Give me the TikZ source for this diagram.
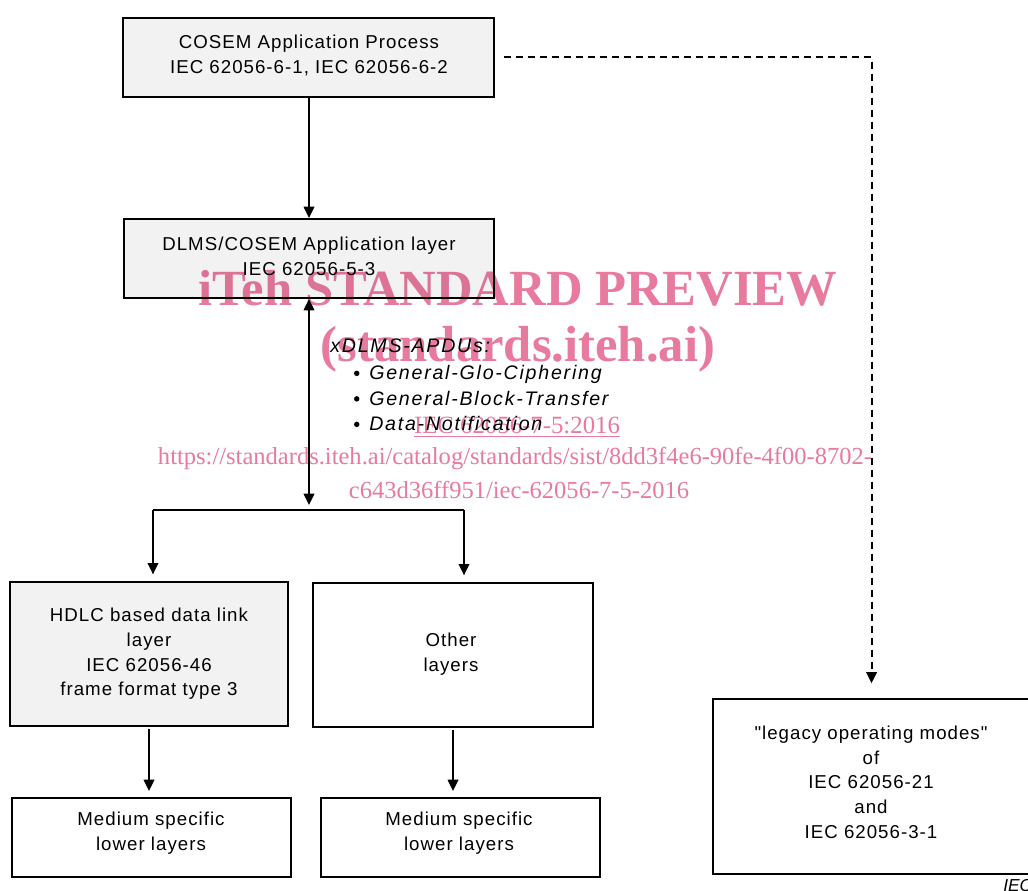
\documentclass[tikz,border=0pt]{standalone}
\usepackage{fontspec}
\usetikzlibrary{arrows.meta,fit}
\setmainfont{Liberation Sans}
\newfontfamily\labfont{Liberation Sans}[LetterSpace=5.5]
\newfontfamily\itlabfont{Liberation Sans Italic}[LetterSpace=9]
\newfontfamily\wmfont{Liberation Serif}
\newcommand\myLabSize{\labfont\fontsize{14}{18.5}\selectfont}
\newcommand\myItSize{\itlabfont\fontsize{14.7}{19}\selectfont}
\definecolor{boxgray}{RGB}{242,242,242}
\definecolor{wmpink}{RGB}{232,122,158}
\tikzset{
  boxframe/.style={draw, line width=1.5pt, inner sep=0pt},
  grayframe/.style={boxframe, fill=boxgray},
  txt/.style={align=center, font=\myLabSize, inner sep=0pt},
  ittxt/.style={anchor=base west, inner sep=0pt, font=\myItSize},
  tip/.tip={Triangle[length=8.5pt,width=8pt]},
  arr/.style={line width=1.1pt, -tip},
  darr/.style={line width=1.1pt, tip-tip},
  dashline/.style={line width=1.5pt, dash pattern=on 5.5pt off 3.5pt, -tip},
  wm/.style={text=wmpink, inner sep=0pt}
}
\begin{document}
\begin{tikzpicture}[x=0.75pt,y=-0.75pt]
\useasboundingbox (0,0) rectangle (1028,891);
\fill[white] (0,0) rectangle (1028,891);

% boxes
\node[grayframe, fit={(123,18) (494,97)}] (A) {};
\node[grayframe, fit={(124,219) (494,298)}] (B) {};
\node[grayframe, fit={(10,582) (288,726)}] (H) {};
\node[boxframe, fit={(313,583) (593,727)}] (O) {};
\node[boxframe, fit={(12,798) (291,877)}] (ML) {};
\node[boxframe, fit={(321,798) (600,877)}] (MR) {};
\node[boxframe, fit={(713,699) (1030,874)}] (L) {};

% box texts
\node[txt] (At) at (309,55.5) {COSEM Application Process\\IEC 62056-6-1, IEC 62056-6-2};
\node[txt] (Bt) at (309,256) {DLMS/COSEM Application layer\\IEC 62056-5-3};
\node[txt] (Ht) at (149,654) {HDLC based data link\\layer\\IEC 62056-46\\frame format type 3};
\node[txt] (Ot) at (451,654) {Other\\layers};
\node[txt] (MLt) at (151,833) {Medium specific\\lower layers};
\node[txt] (MRt) at (459,833) {Medium specific\\lower layers};
\node[txt] (Lt) at (871,782) {"legacy operating modes"\\of\\IEC 62056-21\\and\\IEC 62056-3-1};

% APDU list
\node[ittxt] (apdu) at (330,352.5) {xDLMS-APDUs:};
\node[ittxt] (apdu1) at (369,379.5) {General-Glo-Ciphering};
\node[ittxt] (apdu2) at (369,405) {General-Block-Transfer};
\node[ittxt] (apdu3) at (369,430.5) {Data-Notification};
\foreach \n in {apdu1,apdu2,apdu3}
  \fill ([xshift=-9.2pt,yshift=4.6pt]\n.base west) circle (2.05pt);

% connectors
\coordinate (apduend) at (309,505);
\coordinate (Lturn) at (153,510);
\coordinate (Rturn) at (464,510);
\draw[arr] (A.south -| B.north) -- (B.north);
\draw[darr] (B.south) -- (apduend);
\draw[line width=1.1pt] (Lturn) -- (Rturn);
\draw[arr, shorten >=5pt] (Lturn) -- (Lturn |- H.north);
\draw[arr, shorten >=5pt] (Rturn) -- (Rturn |- O.north);
\draw[arr, shorten <=1.5pt, shorten >=4.5pt] (H.south) -- (H.south |- ML.north);
\draw[arr, shorten <=1.5pt, shorten >=4.5pt] (O.south) -- (O.south |- MR.north);
\draw[dashline, shorten <=6.5pt, shorten >=11pt] (A.east) -| (L.north);

\node[anchor=base west, inner sep=0pt, font=\fontsize{13}{15}\selectfont\itshape] (iec) at (1003,891) {IEC};

% watermark
\begin{scope}[blend mode=multiply]
\node[wm, font=\wmfont\bfseries\fontsize{38}{40}\selectfont] (wm1) at (518,288) {iTeh STANDARD PREVIEW};
\node[wm, font=\wmfont\bfseries\fontsize{38}{40}\selectfont] (wm2) at (518,349) {(standards.iteh.ai)};
\node[wm, font=\wmfont\fontsize{18.6}{20}\selectfont] (wm3) at (517,427) {\underline{IEC 62056-7-5:2016}};
\node[wm, font=\wmfont\fontsize{18.4}{20}\selectfont] (wm4) at (515,459) {https://standards.iteh.ai/catalog/standards/sist/8dd3f4e6-90fe-4f00-8702-};
\node[wm, font=\wmfont\fontsize{18.4}{20}\selectfont] (wm5) at (519,490) {c643d36ff951/iec-62056-7-5-2016};
\end{scope}
\end{tikzpicture}
\end{document}
